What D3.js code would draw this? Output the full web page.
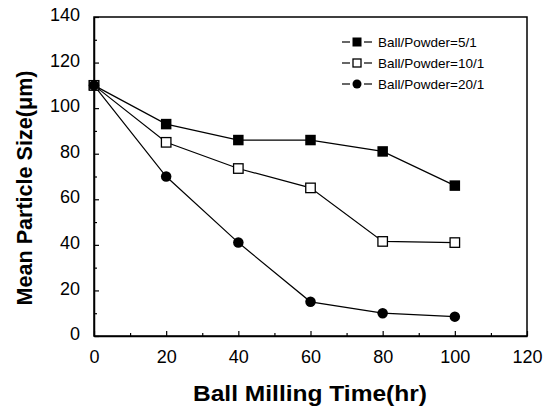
<!DOCTYPE html>
<html>
<head>
<meta charset="utf-8">
<script src="https://cdn.jsdelivr.net/npm/d3@7"></script>
<style>
  html, body { margin: 0; padding: 0; background: #fff; }
  svg text { font-family: "Liberation Sans", Arial, Helvetica, sans-serif; fill: #000; }
</style>
</head>
<body>
<svg id="chart" width="555" height="407"></svg>
<script>
const times = [0, 20, 40, 60, 80, 100];
const ratio5 = [110, 93, 86, 86, 81, 66];
const ratio10 = [110, 85, 73.5, 65, 41.5, 41];
const ratio20 = [110, 70, 41, 15, 10, 8.5];
const seriesNames = ["Ball/Powder=5/1", "Ball/Powder=10/1", "Ball/Powder=20/1"];
const seriesSymbols = ["filledSquare", "openSquare", "filledCircle"];
const xTicks = [0, 20, 40, 60, 80, 100, 120];
const yTicks = [0, 20, 40, 60, 80, 100, 120, 140];
const xTitle = "Ball Milling Time(hr)";
const yTitle = "Mean Particle Size(\u03bcm)";

const series = [ratio5, ratio10, ratio20].map((vals, i) => ({
  name: seriesNames[i], symbol: seriesSymbols[i],
  points: vals.map((v, j) => ({ x: times[j], y: v }))
}));

const svg = d3.select("#chart");
const L = 94, R = 527, T = 17, B = 336;
const x = d3.scaleLinear().domain([0, 120]).range([L, R]);
const y = d3.scaleLinear().domain([0, 140]).range([B, T]);

// frame
svg.append("rect").attr("x", L).attr("y", T).attr("width", R - L).attr("height", B - T)
  .attr("fill", "none").attr("stroke", "#000").attr("stroke-width", 1.5);

// bottom axis with inward ticks
const xAxis = d3.axisBottom(x).tickValues(xTicks).tickSize(-5).tickPadding(14).tickSizeOuter(0);
const gx = svg.append("g").attr("transform", `translate(0,${B})`).call(xAxis);
gx.select(".domain").attr("stroke-width", 1.5);
gx.selectAll("text").attr("font-size", 18).attr("dy", "0.71em");
const xMinor = d3.axisBottom(x).tickValues(d3.range(10, 120, 20)).tickSize(-3).tickFormat("");
const gxm = svg.append("g").attr("transform", `translate(0,${B})`).call(xMinor);
gxm.select(".domain").remove();

// left axis with inward ticks
const yAxis = d3.axisLeft(y).tickValues(yTicks).tickSize(-5).tickPadding(14).tickSizeOuter(0);
const gy = svg.append("g").attr("transform", `translate(${L},0)`).call(yAxis);
gy.select(".domain").attr("stroke-width", 1.5);
gy.selectAll("text").attr("font-size", 18).attr("dy", "0.2em");
const yMinor = d3.axisLeft(y).tickValues(d3.range(10, 140, 20)).tickSize(-3).tickFormat("");
const gym = svg.append("g").attr("transform", `translate(${L},0)`).call(yMinor);
gym.select(".domain").remove();

svg.selectAll(".tick line").attr("stroke-width", 1.2);

// titles
svg.append("text").attr("x", 310).attr("y", 401).attr("text-anchor", "middle")
  .attr("font-size", 22).attr("font-weight", "bold")
  .attr("textLength", 234).attr("lengthAdjust", "spacingAndGlyphs").text(xTitle);
svg.append("text").attr("transform", "translate(32,188) rotate(-90)").attr("text-anchor", "middle")
  .attr("font-size", 22).attr("font-weight", "bold")
  .attr("textLength", 235).attr("lengthAdjust", "spacingAndGlyphs").text(yTitle);

// lines
const line = d3.line().x(d => x(d.x)).y(d => y(d.y));
series.forEach(s => {
  svg.append("path").datum(s.points).attr("d", line)
    .attr("fill", "none").attr("stroke", "#000").attr("stroke-width", 1.2);
});

function drawSymbol(g, type, cx, cy, size) {
  if (type === "filledCircle") {
    g.append("circle").attr("cx", cx).attr("cy", cy).attr("r", size / 2).attr("fill", "#000");
  } else if (type === "filledSquare") {
    g.append("rect").attr("x", cx - size / 2).attr("y", cy - size / 2)
      .attr("width", size).attr("height", size).attr("fill", "#000");
  } else {
    const s = size - 1;
    g.append("rect").attr("x", cx - s / 2).attr("y", cy - s / 2)
      .attr("width", s).attr("height", s).attr("fill", "#fff")
      .attr("stroke", "#000").attr("stroke-width", 1.3);
  }
}

series.forEach(s => {
  const g = svg.append("g");
  s.points.forEach(p => drawSymbol(g, s.symbol, x(p.x), y(p.y), 10.5));
});

// legend
const legY = [42, 63, 84];
series.forEach((s, i) => {
  const g = svg.append("g");
  const cy = legY[i];
  g.append("line").attr("x1", 342).attr("x2", 350).attr("y1", cy).attr("y2", cy)
    .attr("stroke", "#000").attr("stroke-width", 1.2);
  g.append("line").attr("x1", 364).attr("x2", 372).attr("y1", cy).attr("y2", cy)
    .attr("stroke", "#000").attr("stroke-width", 1.2);
  drawSymbol(g, s.symbol, 357, cy, 9);
  g.append("text").attr("x", 378).attr("y", cy).attr("dy", "0.35em")
    .attr("font-size", 13.5).text(s.name);
});
</script>
</body>
</html>
